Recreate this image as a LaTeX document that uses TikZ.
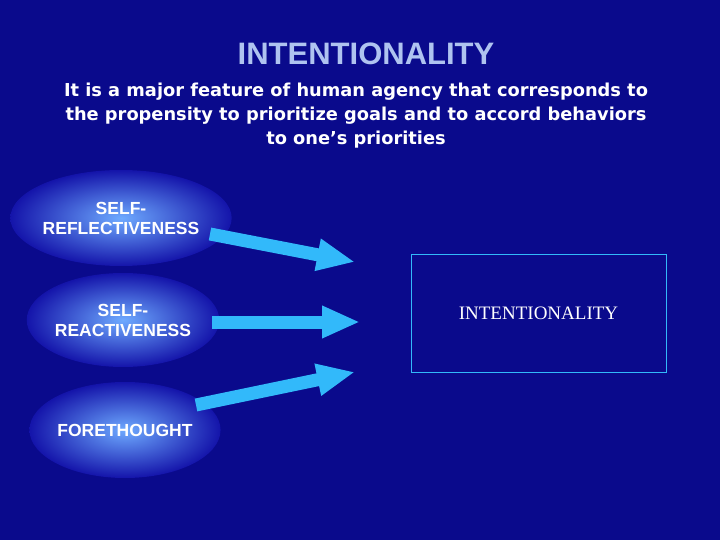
\documentclass[tikz,border=0pt]{standalone}
\usepackage{fontspec}
\setmainfont{Liberation Sans}
\newfontfamily\verd{DejaVu Sans}
\newfontfamily\tms{Liberation Serif}
\usetikzlibrary{shapes.geometric,arrows.meta}
\definecolor{bg}{RGB}{10,10,140}
\definecolor{ttl}{RGB}{175,195,240}
\definecolor{arr}{RGB}{50,185,250}
\tikzset{
 oval/.style={ellipse,inner color={rgb,255:red,110;green,170;blue,255},outer color={rgb,255:red,20;green,20;blue,170},minimum width=178pt,minimum height=96pt,inner sep=0pt,align=center,text=white,font=\bfseries\fontsize{17.5}{20}\selectfont},
 barrow/.style={draw=arr,line width=13pt,-{Triangle[width=30pt,length=38pt]}},
}
\begin{document}
\begin{tikzpicture}[x=1pt,y=-1pt]
\fill[bg] (0,0) rectangle (720,540);
\node[text=ttl,font=\bfseries\fontsize{31}{36}\selectfont] (t) at (366,54) {INTENTIONALITY};
\node[text=white,align=center,font=\verd\bfseries\fontsize{17.8}{24}\selectfont] (s) at (356,116) {It is a major feature of human agency that corresponds to\\the propensity to prioritize goals and to accord behaviors\\to one’s priorities};
\node[oval] (e1) at (121,218) {SELF-\\REFLECTIVENESS};
\node[oval,minimum width=170pt,minimum height=94pt] (e2) at (123,320) {SELF-\\REACTIVENESS};
\node[oval] (e3) at (125,430) {FORETHOUGHT};
\node[draw=arr,line width=1pt,fill=bg,minimum width=255pt,minimum height=118pt,text=white,font=\tms\fontsize{19}{22}\selectfont] (box) at (538.5,313) {INTENTIONALITY};
\coordinate (a1s) at (210,234); \coordinate (a1e) at (355,262);
\coordinate (a2s) at (212,322); \coordinate (a2e) at (360,322);
\coordinate (a3s) at (196,405); \coordinate (a3e) at (355,372);
\draw[barrow] (a1s) -- (a1e);
\draw[barrow] (a2s) -- (a2e);
\draw[barrow] (a3s) -- (a3e);
\end{tikzpicture}
\end{document}
